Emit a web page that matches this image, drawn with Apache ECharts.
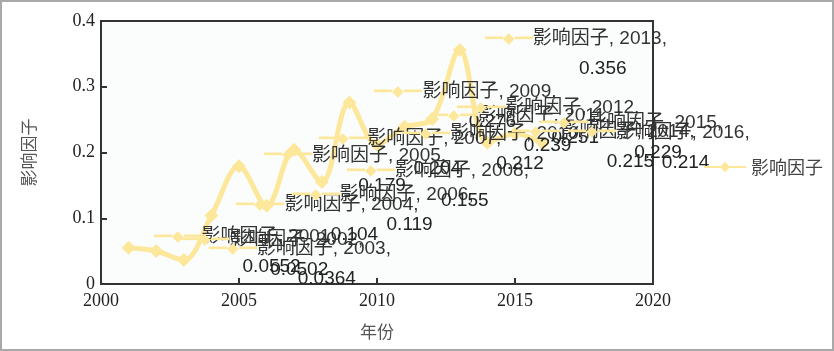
<!DOCTYPE html>
<html><head><meta charset="utf-8">
<script src="https://cdn.jsdelivr.net/npm/echarts@6/dist/echarts.min.js"></script>
<style>
html,body{margin:0;padding:0;background:#fff;}
#c{width:830px;height:347px;border:2px solid #a9a9a9;}
</style></head>
<body><div id="c"></div>
<script>
const seriesName = '影响因子';
const years = [2001, 2002, 2003, 2004, 2005, 2006, 2007, 2008, 2009, 2010, 2011, 2012, 2013, 2014, 2015, 2016];
const values = [0.0552, 0.0502, 0.0364, 0.104, 0.179, 0.119, 0.204, 0.155, 0.276, 0.212, 0.239, 0.251, 0.356, 0.215, 0.229, 0.214];
const xTicks = [2000, 2020, 5];
const yTicks = [0, 0.4, 0.1];
const xName = '年份';
const yName = '影响因子';

const chart = echarts.init(document.getElementById('c'));
const yellow = '#fde79b';
chart.setOption({
  animation: false,
  backgroundColor: '#fff',
  grid: {left: 99, right: 179, top: 19, bottom: 65, show: true, borderColor: '#333', borderWidth: 2, backgroundColor: '#fbfdfd'},
  legend: {
    left: 696, top: 151, orient: 'vertical',
    itemWidth: 42, itemHeight: 13, itemGap: 6,
    textStyle: {fontSize: 18, color: '#444', fontFamily: 'Noto Sans CJK SC'},
    data: [seriesName]
  },
  xAxis: {
    type: 'value', min: xTicks[0], max: xTicks[1], interval: xTicks[2],
    name: xName, nameLocation: 'middle', nameGap: 39,
    nameTextStyle: {fontSize: 17, color: '#555', fontFamily: 'Noto Sans CJK SC'},
    axisLine: {show: true, lineStyle: {color: '#333', width: 2}},
    axisTick: {show: true, inside: true, length: 6, lineStyle: {color: '#333', width: 2}},
    axisLabel: {fontSize: 18, color: '#222', fontFamily: 'Liberation Serif', margin: 8, formatter: v => String(v)},
    splitLine: {show: false}
  },
  yAxis: {
    type: 'value', min: yTicks[0], max: yTicks[1], interval: yTicks[2],
    name: yName, nameLocation: 'middle', nameGap: 64, nameRotate: 90,
    nameTextStyle: {fontSize: 17, color: '#555', fontFamily: 'Noto Sans CJK SC'},
    axisLine: {show: true, lineStyle: {color: '#333', width: 2}},
    axisTick: {show: true, inside: true, length: 6, lineStyle: {color: '#333', width: 2}},
    axisLabel: {fontSize: 18, color: '#222', fontFamily: 'Liberation Serif', margin: 6, formatter: v => String(v)},
    splitLine: {show: false}
  },
  series: [{
    name: seriesName, type: 'line', smooth: 0.35,
    data: years.map((y, i) => [y, values[i]]),
    symbol: 'diamond', symbolSize: 14,
    lineStyle: {color: yellow, width: 5},
    itemStyle: {color: yellow},
    label: {
      show: true, position: 'right', distance: 18, offset: [0, 4],
      formatter: p => '{k|━━◆━━}{t|' + seriesName + ', ' + p.value[0] + ',}\n{sp|}{v|' + p.value[1] + '}',
      rich: {
        k: {color: yellow, fontSize: 15, width: 44, padding: [0, 4, 0, 0]},
        t: {fontSize: 19, color: '#333', fontFamily: 'Liberation Sans, Noto Sans CJK SC', lineHeight: 30},
        sp: {width: 48},
        v: {fontSize: 19, color: '#222', fontFamily: 'Liberation Sans', width: 140, align: 'center', lineHeight: 30}
      }
    }
  }]
});
</script></body></html>
